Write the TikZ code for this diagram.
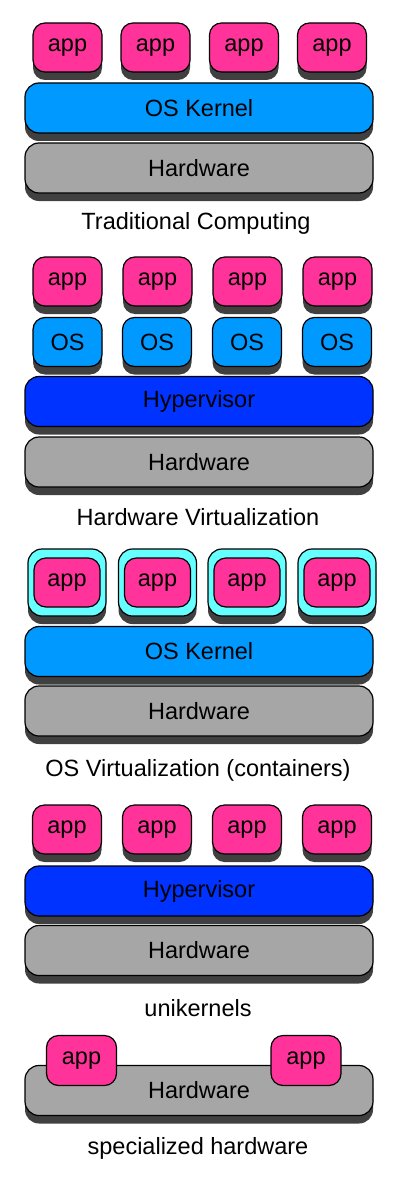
\documentclass[tikz,border=0pt]{standalone}
\usepackage{fontspec}
\setmainfont{Liberation Sans}
\usetikzlibrary{shadows}

\definecolor{appcol}{RGB}{255,51,153}
\definecolor{oscol}{RGB}{0,153,255}
\definecolor{hypcol}{RGB}{0,51,255}
\definecolor{hwcol}{RGB}{166,166,166}
\definecolor{boxcol}{RGB}{102,255,255}
\definecolor{shadecol}{RGB}{64,64,64}

\begin{document}
\begin{tikzpicture}[x=1pt, y=-1pt, line width=1.2pt,
  font=\fontsize{23.5}{28}\selectfont,
  shaded/.style={drop shadow={shadow xshift=0pt, shadow yshift=-8pt, opacity=1, fill=shadecol}},
  layer/.style={draw, shaded, rounded corners=14pt, inner sep=0pt,
    minimum width=348pt, minimum height=50pt},
  app/.style={draw, fill=appcol, rounded corners=12pt, inner sep=0pt,
    minimum width=69pt, minimum height=49pt},
  kernel/.style={layer, fill=oscol},
  hyper/.style={layer, fill=hypcol},
  hw/.style={layer, fill=hwcol}]
  \useasboundingbox (0,0) rectangle (400,1180);

  % traditional computing
  \node[app, shaded] (A1) at (67.5,47.5) {app};
  \node[app, shaded] (A2) at (155.5,47.5) {app};
  \node[app, shaded] (A3) at (244,47.5) {app};
  \node[app, shaded] (A4) at (332,47.5) {app};
  \node[kernel] (K1) at (199,108) {OS Kernel};
  \node[hw] (H1) at (199,168) {Hardware};
  \node (T1) at (196,223) {Traditional Computing};

  % hardware virtualization
  \node[app, shaded] (B1) at (67.5,281.5) {app};
  \node[app, shaded] (B2) at (157.5,281.5) {app};
  \node[app, shaded] (B3) at (247.5,281.5) {app};
  \node[app, shaded] (B4) at (337.5,281.5) {app};
  \node[app, shaded, fill=oscol] (O1) at (67.5,342) {OS};
  \node[app, shaded, fill=oscol] (O2) at (157,342) {OS};
  \node[app, shaded, fill=oscol] (O3) at (247,342) {OS};
  \node[app, shaded, fill=oscol] (O4) at (337,342) {OS};
  \node[hyper] (V2) at (199,401.5) {Hypervisor};
  \node[hw] (H2) at (199,462) {Hardware};
  \node (T2) at (198,517) {Hardware Virtualization};

  % os virtualization
  \node[app, shaded, fill=boxcol, rounded corners=14pt, minimum width=78pt, minimum height=67pt] (C1) at (67,582.5) {};
  \node[app, shaded, fill=boxcol, rounded corners=14pt, minimum width=78pt, minimum height=67pt] (C2) at (157.5,582.5) {};
  \node[app, shaded, fill=boxcol, rounded corners=14pt, minimum width=78pt, minimum height=67pt] (C3) at (247,582.5) {};
  \node[app, shaded, fill=boxcol, rounded corners=14pt, minimum width=78pt, minimum height=67pt] (C4) at (337,582.5) {};
  \node[app, minimum width=66pt] (D1) at (C1) {app};
  \node[app, minimum width=66pt] (D2) at (C2) {app};
  \node[app, minimum width=66pt] (D3) at (C3) {app};
  \node[app, minimum width=66pt] (D4) at (C4) {app};
  \node[kernel] (K3) at (199,651.5) {OS Kernel};
  \node[hw] (H3) at (199,711) {Hardware};
  \node (T3) at (198,770) {OS Virtualization (containers)};

  % unikernels
  \node[app, shaded] (E1) at (67,829.5) {app};
  \node[app, shaded] (E2) at (157,829.5) {app};
  \node[app, shaded] (E3) at (247,829.5) {app};
  \node[app, shaded] (E4) at (337,829.5) {app};
  \node[hyper] (V4) at (199,891) {Hypervisor};
  \node[hw] (H4) at (199,950.5) {Hardware};
  \node (T4) at (198,1008) {unikernels};

  % specialized hardware
  \node[hw] (H5) at (199,1090.5) {Hardware};
  \node[app, minimum width=70pt, minimum height=50pt] (F1) at (81.5,1060.5) {app};
  \node[app, minimum width=70pt, minimum height=50pt] (F2) at (306,1060.5) {app};
  \node (T5) at (198,1148) {specialized hardware};
\end{tikzpicture}
\end{document}
